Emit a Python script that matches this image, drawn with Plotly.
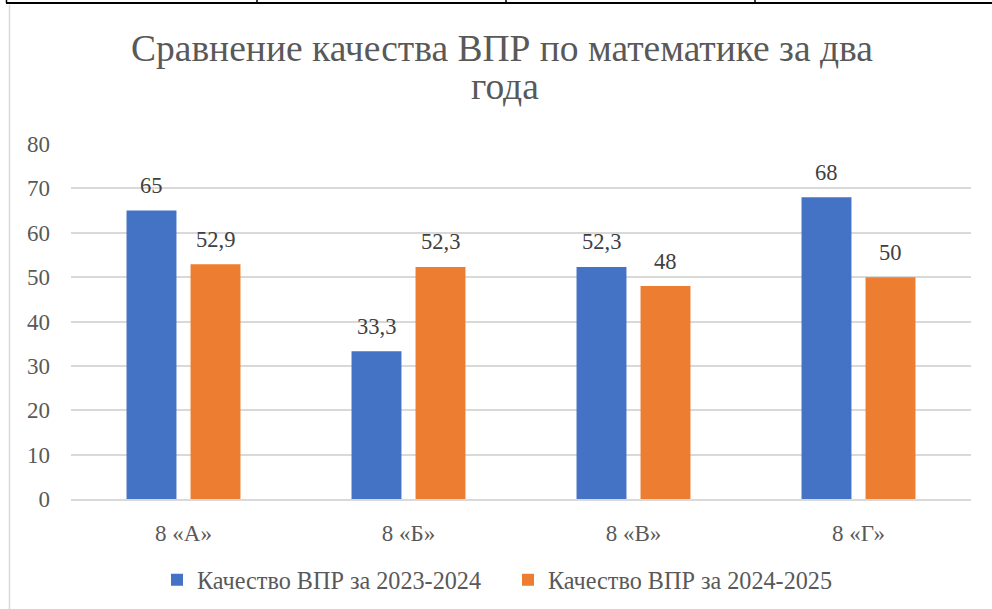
import plotly.graph_objects as go

categories = ["8 «А»", "8 «Б»", "8 «В»", "8 «Г»"]
series_names = ["Качество ВПР за 2023-2024", "Качество ВПР за 2024-2025"]
values_2023 = [65, 33.3, 52.3, 68]
values_2024 = [52.9, 52.3, 48, 50]
labels_2023 = ["65", "33,3", "52,3", "68"]
labels_2024 = ["52,9", "52,3", "48", "50"]
y_ticks = [0, 10, 20, 30, 40, 50, 60, 70, 80]
title_lines = ["Сравнение качества ВПР по математике за два", "года"]

BLUE = "#4472C4"
ORANGE = "#ED7D31"
FONT = "Liberation Serif"

W, H = 992, 609
L, R, T, B = 71, 21, 144, 110
PW, PH = W - L - R, H - T - B

def px_x(px):
    return (px - L) / PW

def px_y(py):
    return (H - B - py) / PH

fig = go.Figure()
fig.add_trace(go.Bar(x=categories, y=values_2023, name=series_names[0],
                     marker=dict(color=BLUE, line=dict(width=0))))
fig.add_trace(go.Bar(x=categories, y=values_2024, name=series_names[1],
                     marker=dict(color=ORANGE, line=dict(width=0))))

annotations = []
for vals, labs, shift in ((values_2023, labels_2023, -32), (values_2024, labels_2024, 32)):
    for c, v, t in zip(categories, vals, labs):
        annotations.append(dict(x=c, y=v, xref="x", yref="y", text=t, showarrow=False,
                                xshift=shift, yshift=25, yanchor="middle",
                                font=dict(family=FONT, size=22.5, color="#404040")))

annotations.append(dict(x=px_x(502), xref="paper", y=px_y(49), yref="paper",
                        text=title_lines[0], showarrow=False, xanchor="center", yanchor="middle",
                        font=dict(family=FONT, size=37.5, color="#595959")))
annotations.append(dict(x=px_x(505), xref="paper", y=px_y(86), yref="paper",
                        text=title_lines[1], showarrow=False, xanchor="center", yanchor="middle",
                        font=dict(family=FONT, size=37.5, color="#595959")))

shapes = [
    dict(type="line", xref="paper", yref="paper", x0=px_x(9.5), x1=px_x(9.5),
         y0=px_y(5), y1=px_y(609), line=dict(color="#D9D9D9", width=1.5)),
    dict(type="line", xref="paper", yref="paper", x0=px_x(6), x1=px_x(992),
         y0=px_y(3), y1=px_y(3), line=dict(color="black", width=2)),
]
for vx in (6.5, 257, 506, 755):
    shapes.append(dict(type="line", xref="paper", yref="paper", x0=px_x(vx), x1=px_x(vx),
                       y0=px_y(0), y1=px_y(3), line=dict(color="black", width=1.5)))

fig.update_layout(
    width=W, height=H,
    margin=dict(l=L, r=R, t=T, b=B, autoexpand=False),
    paper_bgcolor="white", plot_bgcolor="white",
    barmode="group", bargap=0.431, bargroupgap=0.22,
    font=dict(family=FONT, size=23, color="#595959"),
    showlegend=True,
    legend=dict(orientation="h", x=508 / W, xanchor="center", xref="container",
                y=px_y(580), yanchor="middle",
                font=dict(family=FONT, size=24.2, color="#595959"),
                itemwidth=30, tracegroupgap=0, entrywidth=306),
    annotations=annotations,
    shapes=shapes,
)
fig.update_xaxes(showgrid=False, showline=True, linecolor="#D9D9D9", linewidth=1.5,
                 ticks="", ticklabelstandoff=13,
                 tickfont=dict(family=FONT, size=23, color="#595959"))
fig.update_yaxes(range=[0, 80], tickvals=y_ticks, showgrid=True, gridcolor="#D9D9D9",
                 gridwidth=1.5, zeroline=False, showline=False, ticks="",
                 ticklabelstandoff=20,
                 tickfont=dict(family=FONT, size=23, color="#595959"))

fig.write_html("out.html", config={"displayModeBar": False},
               post_script="document.body.style.margin='0';document.body.style.padding='0';")
